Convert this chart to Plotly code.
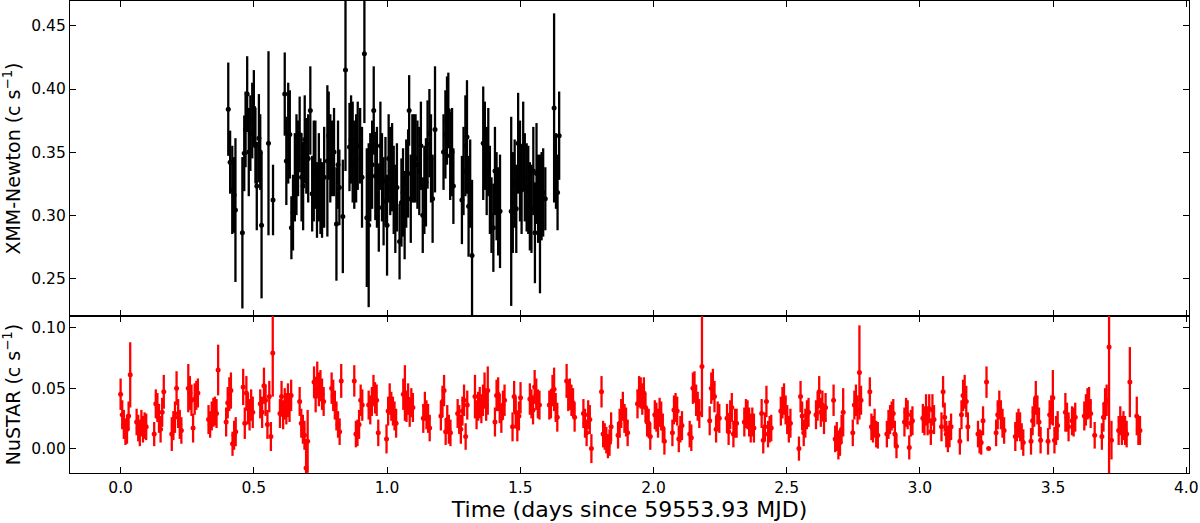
import plotly.graph_objects as go
from plotly.subplots import make_subplots

# ---------------- XMM-Newton light curve (days, c/s, 1-sigma error) ----------------
xmm_time = [
    0.404, 0.411, 0.419, 0.426, 0.431,
    0.457, 0.464, 0.469, 0.475, 0.481, 0.487, 0.494, 0.500, 0.506, 0.511, 0.519, 0.524, 0.529,
    0.555, 0.572,
    0.616, 0.622, 0.629, 0.635, 0.641, 0.647, 0.654, 0.660, 0.666, 0.672, 0.679, 0.685, 0.691,
    0.697, 0.704, 0.712, 0.719, 0.725, 0.731, 0.737, 0.744, 0.750, 0.756, 0.764, 0.776, 0.781,
    0.787, 0.794, 0.801, 0.810, 0.816,
    0.821, 0.834, 0.844, 0.859, 0.865, 0.871, 0.877, 0.884, 0.890, 0.899, 0.906, 0.915, 0.924,
    0.931, 0.937, 0.944, 0.950, 0.956, 0.962, 0.969, 0.975, 0.981, 0.987, 0.994, 1.000, 1.006,
    1.012, 1.019, 1.025, 1.031, 1.037, 1.047,
    1.054, 1.060, 1.066, 1.072, 1.079, 1.083, 1.089, 1.095, 1.101, 1.107, 1.114, 1.121, 1.127,
    1.134, 1.140, 1.146, 1.152, 1.159, 1.165, 1.171, 1.180,
    1.212, 1.219, 1.225, 1.230,
    1.237, 1.244, 1.249,
    1.281, 1.287, 1.294, 1.300, 1.306, 1.312, 1.319,
    1.361, 1.367, 1.374, 1.380, 1.386, 1.392, 1.399, 1.405, 1.411, 1.417, 1.424,
    1.466, 1.472, 1.479, 1.485, 1.492, 1.499, 1.505, 1.511, 1.517, 1.524, 1.530, 1.536, 1.542,
    1.549, 1.555, 1.561, 1.567, 1.574, 1.580, 1.586, 1.594,
    1.627, 1.634, 1.640, 1.646,
]
xmm_rate = [
    0.384, 0.342, 0.320, 0.316, 0.304,
    0.286, 0.349, 0.368, 0.396, 0.350, 0.365, 0.375, 0.385, 0.355, 0.323, 0.361, 0.350, 0.292,
    0.357, 0.312,
    0.396, 0.343, 0.365, 0.364, 0.290, 0.302, 0.330, 0.340, 0.345, 0.364, 0.330, 0.323, 0.360,
    0.347, 0.345, 0.383, 0.317, 0.335, 0.340, 0.312, 0.330, 0.315, 0.312, 0.330, 0.343, 0.363,
    0.345, 0.345, 0.350, 0.293, 0.340,
    0.322, 0.299, 0.415, 0.354, 0.360, 0.350, 0.340, 0.345, 0.355, 0.355, 0.330, 0.428, 0.298,
    0.292, 0.330, 0.340, 0.383, 0.331, 0.330, 0.306, 0.355, 0.330, 0.311, 0.327, 0.292, 0.345,
    0.335, 0.338, 0.320, 0.305, 0.322, 0.279,
    0.310, 0.318, 0.300, 0.325, 0.333, 0.383, 0.313, 0.345, 0.345, 0.345, 0.340, 0.335, 0.355,
    0.300, 0.320, 0.326, 0.356, 0.365, 0.345, 0.313, 0.368,
    0.350, 0.364, 0.375, 0.383,
    0.347, 0.350, 0.323,
    0.312, 0.335, 0.355, 0.362, 0.307, 0.325, 0.268,
    0.357, 0.355, 0.335, 0.350, 0.320, 0.300, 0.290, 0.335, 0.315, 0.303, 0.303,
    0.303, 0.310, 0.325, 0.305, 0.357, 0.335, 0.320, 0.355, 0.330, 0.322, 0.320, 0.307, 0.305,
    0.335, 0.286, 0.333, 0.313, 0.293, 0.315, 0.318, 0.313,
    0.385, 0.335, 0.318, 0.363,
]
xmm_err = [
    0.037, 0.025, 0.035, 0.030, 0.057,
    0.060, 0.030, 0.030, 0.030, 0.035, 0.030, 0.030, 0.030, 0.030, 0.035, 0.035, 0.030, 0.058,
    0.073, 0.028,
    0.033, 0.035, 0.040, 0.035, 0.025, 0.030, 0.035, 0.040, 0.030, 0.030, 0.035, 0.035, 0.035,
    0.030, 0.035, 0.035, 0.030, 0.040, 0.035, 0.030, 0.035, 0.030, 0.030, 0.040, 0.060, 0.035,
    0.035, 0.030, 0.035, 0.045, 0.035,
    0.030, 0.045, 0.080, 0.035, 0.035, 0.040, 0.035, 0.035, 0.035, 0.030, 0.040, 0.055, 0.055,
    0.065, 0.035, 0.035, 0.035, 0.035, 0.040, 0.035, 0.035, 0.035, 0.035, 0.035, 0.040, 0.035,
    0.035, 0.035, 0.035, 0.035, 0.035, 0.030,
    0.035, 0.035, 0.035, 0.035, 0.035, 0.028, 0.035, 0.035, 0.035, 0.035, 0.035, 0.035, 0.035,
    0.030, 0.035, 0.035, 0.035, 0.035, 0.035, 0.035, 0.050,
    0.030, 0.035, 0.035, 0.030,
    0.035, 0.035, 0.030,
    0.035, 0.035, 0.040, 0.045, 0.040, 0.035, 0.060,
    0.045, 0.035, 0.035, 0.035, 0.035, 0.030, 0.035, 0.035, 0.035, 0.035, 0.045,
    0.075, 0.040, 0.035, 0.035, 0.040, 0.040, 0.035, 0.035, 0.035, 0.035, 0.035, 0.035, 0.035,
    0.035, 0.040, 0.040, 0.035, 0.055, 0.035, 0.035, 0.025,
    0.075, 0.030, 0.030, 0.035,
]

# ---------------- NuSTAR light curve (days, c/s, 1-sigma error) ----------------
nustar_time = [
    0.000, 0.006, 0.012, 0.018, 0.024, 0.030, 0.036,
    0.060, 0.066, 0.072, 0.078, 0.084, 0.090, 0.096,
    0.126, 0.132, 0.138, 0.144, 0.150, 0.156, 0.162,
    0.192, 0.198, 0.204, 0.210, 0.216, 0.222, 0.228,
    0.254, 0.260, 0.266, 0.272, 0.278, 0.284, 0.290,
    0.330, 0.336, 0.342, 0.348, 0.354, 0.360, 0.366,
    0.396, 0.402, 0.408, 0.414, 0.420, 0.426, 0.432,
    0.460, 0.466, 0.472, 0.478, 0.484, 0.490, 0.496,
    0.524, 0.531, 0.538, 0.544, 0.551, 0.558, 0.564, 0.571,
    0.598, 0.604, 0.610, 0.616, 0.622, 0.628, 0.634, 0.640,
    0.672, 0.678, 0.684, 0.690, 0.696, 0.702,
    0.726, 0.732, 0.738, 0.744, 0.750, 0.756, 0.762,
    0.792, 0.798, 0.804, 0.810, 0.816, 0.822, 0.828,
    0.877, 0.883, 0.889, 0.895, 0.901, 0.907,
    0.931, 0.937, 0.943, 0.949, 0.955, 0.961, 0.967,
    0.998, 1.004, 1.010, 1.016, 1.022, 1.028, 1.034,
    1.061, 1.067, 1.073, 1.079, 1.085, 1.091, 1.097,
    1.136, 1.142, 1.148, 1.154, 1.160,
    1.202, 1.208, 1.214, 1.220, 1.226, 1.232, 1.238,
    1.265, 1.271, 1.277, 1.283, 1.289, 1.295, 1.301,
    1.330, 1.336, 1.342, 1.348, 1.354, 1.360, 1.366, 1.372, 1.378,
    1.405, 1.411, 1.417, 1.423, 1.429, 1.435, 1.441,
    1.471, 1.477, 1.483, 1.489, 1.495, 1.501,
    1.536, 1.542, 1.548, 1.554, 1.560, 1.566, 1.572,
    1.609, 1.615, 1.621, 1.627, 1.633, 1.639,
    1.674, 1.680, 1.686, 1.692, 1.698, 1.704,
    1.737, 1.743, 1.749, 1.755, 1.761, 1.767,
    1.805, 1.811, 1.817, 1.823, 1.829, 1.835, 1.841,
    1.867, 1.873, 1.879, 1.885, 1.891, 1.897, 1.903,
    1.940, 1.946, 1.952, 1.958, 1.964, 1.970, 1.976, 1.982, 1.988,
    2.005, 2.011, 2.017, 2.023, 2.029, 2.035, 2.041,
    2.071, 2.077, 2.083, 2.089, 2.095, 2.101, 2.107,
    2.136, 2.142, 2.148, 2.154, 2.160, 2.166, 2.172, 2.182,
    2.211, 2.217, 2.223, 2.229, 2.235, 2.241, 2.247,
    2.276, 2.282, 2.288, 2.294, 2.300, 2.306, 2.312,
    2.341, 2.347, 2.353, 2.359, 2.365, 2.371, 2.377,
    2.406, 2.412, 2.418, 2.424, 2.430, 2.436, 2.442,
    2.478, 2.484, 2.490, 2.496, 2.502, 2.508, 2.514,
    2.546, 2.552, 2.558, 2.564, 2.570, 2.576, 2.582,
    2.610, 2.616, 2.622, 2.628, 2.634, 2.640, 2.646,
    2.676, 2.682, 2.688, 2.694, 2.700, 2.706, 2.712,
    2.748, 2.754, 2.760, 2.766, 2.773, 2.779,
    2.812, 2.818, 2.824, 2.830, 2.836, 2.842,
    2.876, 2.882, 2.888, 2.894, 2.900, 2.906, 2.912,
    2.942, 2.948, 2.954, 2.960, 2.966, 2.972,
    3.011, 3.017, 3.023, 3.029, 3.035, 3.041, 3.047, 3.053,
    3.081, 3.087, 3.093, 3.099, 3.105, 3.111, 3.117,
    3.150, 3.156, 3.162, 3.168, 3.174, 3.180,
    3.218, 3.224, 3.230, 3.237, 3.250, 3.258,
    3.286, 3.292, 3.298, 3.304, 3.310, 3.316,
    3.358, 3.364, 3.370, 3.376, 3.382, 3.388,
    3.417, 3.423, 3.429, 3.435, 3.441, 3.447, 3.453,
    3.481, 3.487, 3.493, 3.499, 3.505, 3.511, 3.517,
    3.546, 3.552, 3.558, 3.571, 3.577, 3.583,
    3.617, 3.623, 3.629, 3.635, 3.641, 3.656,
    3.683, 3.689, 3.695, 3.701, 3.710, 3.719,
    3.746, 3.752, 3.758, 3.764, 3.770, 3.776, 3.788,
    3.814, 3.820, 3.826,
]
nustar_rate = [
    0.045, 0.028, 0.020, 0.014, 0.016, 0.027, 0.061,
    0.022, 0.017, 0.013, 0.021, 0.016, 0.019, 0.018,
    0.012, 0.037, 0.034, 0.025, 0.016, 0.030, 0.047,
    0.012, 0.019, 0.026, 0.050, 0.029, 0.020, 0.015,
    0.050, 0.046, 0.040, 0.017, 0.041, 0.044, 0.046,
    0.024, 0.020, 0.027, 0.030, 0.031, 0.029, 0.065,
    0.022, 0.038, 0.045, 0.048, 0.004, 0.011, 0.014,
    0.051, 0.021, 0.046, 0.033, 0.028, 0.036, 0.030,
    0.037, 0.030, 0.052, 0.040, 0.020, 0.043, 0.010, 0.079,
    0.029, 0.043, 0.028, 0.037, 0.033, 0.040, 0.034, 0.044,
    0.039, 0.021, 0.016, 0.011, -0.016, 0.006,
    0.055, 0.043, 0.058, 0.049, 0.052, 0.045, 0.039,
    0.050, 0.044, 0.036, 0.027, 0.020, 0.014, 0.056,
    0.056, 0.012, 0.013, 0.020, 0.040, 0.036,
    0.036, 0.032, 0.039, 0.048, 0.042, 0.040, 0.013,
    0.008, 0.031, 0.041, 0.035, 0.031, 0.027, 0.021,
    0.045, 0.046, 0.035, 0.041, 0.030, 0.038, 0.034,
    0.025, 0.035, 0.028, 0.025, 0.017,
    0.027, 0.039, 0.048, 0.014, 0.024, 0.016, 0.013,
    0.029, 0.024, 0.016, 0.031, 0.040, 0.010, 0.036,
    0.043, 0.028, 0.035, 0.038, 0.033, 0.040, 0.048, 0.036, 0.048,
    0.022, 0.044, 0.045, 0.033, 0.025, 0.036, 0.040,
    0.018, 0.043, 0.030, 0.018, 0.027, 0.042,
    0.041, 0.037, 0.032, 0.051, 0.045, 0.037, 0.036,
    0.036, 0.037, 0.048, 0.049, 0.034, 0.026,
    0.056, 0.044, 0.045, 0.040, 0.038, 0.026,
    0.029, 0.021, 0.013, 0.028, 0.024, 0.000,
    0.047, 0.012, 0.010, 0.007, 0.002, 0.005, 0.018,
    0.011, 0.021, 0.029, 0.035, 0.025, 0.022, 0.013,
    0.037, 0.047, 0.046, 0.041, 0.046, 0.034, 0.022, 0.021, 0.010,
    0.028, 0.026, 0.021, 0.030, 0.027, 0.017, 0.006,
    0.013, 0.032, 0.034, 0.031, 0.008, 0.016, 0.019,
    0.012, 0.009, 0.050, 0.051, 0.040, 0.035, 0.029, 0.068,
    0.023, 0.050, 0.053, 0.043, 0.016, 0.027, 0.025,
    0.025, 0.014, 0.028, 0.034, 0.012, 0.021, 0.021,
    0.022, 0.029, 0.028, 0.022, 0.017, 0.022, 0.017,
    0.029, 0.007, 0.018, 0.039, 0.012, 0.016, 0.017,
    0.031, 0.038, 0.041, 0.032, 0.024, 0.016, 0.021,
    0.000, 0.043, 0.027, 0.013, 0.021, 0.028, 0.030,
    0.028, 0.035, 0.047, 0.030, 0.036, 0.024, 0.034,
    0.040, 0.008, 0.010, 0.003, 0.005, 0.016, 0.030,
    0.013, 0.036, 0.040, 0.032, 0.063, 0.040,
    0.047, 0.018, 0.016, 0.021, 0.012, 0.011,
    0.012, 0.020, 0.024, 0.027, 0.029, 0.012, 0.002,
    0.022, 0.030, 0.028, 0.001, 0.021, 0.023,
    0.025, 0.023, 0.032, 0.023, 0.033, 0.014, 0.032, 0.024,
    0.018, 0.047, 0.026, 0.012, 0.008, 0.012, 0.018,
    0.006, 0.028, 0.044, 0.047, 0.039, 0.018,
    0.012, 0.006, 0.005, 0.023, 0.055, 0.000,
    0.013, 0.028, 0.036, 0.028, 0.021, 0.015,
    0.010, 0.018, 0.021, 0.018, 0.010, 0.005,
    0.006, 0.023, 0.030, 0.042, 0.032, 0.022, 0.007,
    0.006, 0.028, 0.032, 0.042, 0.007, 0.015, 0.019,
    0.030, 0.026, 0.018, 0.023, 0.022, 0.026,
    0.027, 0.032, 0.037, 0.038, 0.029, 0.011,
    0.010, 0.026, 0.037, 0.040, 0.084, 0.007,
    0.015, 0.023, 0.015, 0.019, 0.015, 0.012, 0.055,
    0.027, 0.015, 0.015,
]
nustar_err = [
    0.013, 0.012, 0.012, 0.011, 0.012, 0.012, 0.027,
    0.011, 0.011, 0.011, 0.011, 0.011, 0.011, 0.011,
    0.010, 0.012, 0.012, 0.012, 0.011, 0.012, 0.014,
    0.014, 0.012, 0.013, 0.014, 0.012, 0.012, 0.011,
    0.020, 0.014, 0.013, 0.012, 0.013, 0.012, 0.012,
    0.012, 0.011, 0.012, 0.012, 0.012, 0.012, 0.021,
    0.012, 0.013, 0.014, 0.015, 0.010, 0.012, 0.012,
    0.015, 0.013, 0.014, 0.013, 0.013, 0.013, 0.013,
    0.012, 0.013, 0.015, 0.013, 0.012, 0.013, 0.012, 0.036,
    0.012, 0.013, 0.012, 0.013, 0.013, 0.014, 0.012, 0.013,
    0.012, 0.012, 0.012, 0.012, 0.024, 0.026,
    0.013, 0.013, 0.014, 0.014, 0.013, 0.013, 0.012,
    0.013, 0.013, 0.012, 0.012, 0.011, 0.011, 0.014,
    0.013, 0.011, 0.011, 0.012, 0.013, 0.013,
    0.012, 0.012, 0.012, 0.013, 0.013, 0.013, 0.011,
    0.012, 0.012, 0.013, 0.012, 0.012, 0.012, 0.012,
    0.013, 0.023, 0.013, 0.013, 0.012, 0.012, 0.012,
    0.012, 0.012, 0.012, 0.012, 0.011,
    0.012, 0.013, 0.013, 0.011, 0.012, 0.012, 0.011,
    0.012, 0.012, 0.012, 0.012, 0.013, 0.011, 0.012,
    0.018, 0.012, 0.012, 0.013, 0.012, 0.013, 0.015, 0.013, 0.020,
    0.012, 0.013, 0.014, 0.012, 0.012, 0.012, 0.013,
    0.012, 0.013, 0.013, 0.012, 0.012, 0.013,
    0.013, 0.012, 0.012, 0.014, 0.013, 0.012, 0.012,
    0.012, 0.012, 0.013, 0.018, 0.012, 0.012,
    0.014, 0.013, 0.013, 0.013, 0.012, 0.012,
    0.012, 0.012, 0.011, 0.012, 0.012, 0.012,
    0.013, 0.011, 0.011, 0.011, 0.010, 0.011, 0.012,
    0.011, 0.012, 0.012, 0.012, 0.012, 0.012, 0.011,
    0.012, 0.013, 0.013, 0.013, 0.013, 0.012, 0.012, 0.012, 0.011,
    0.012, 0.012, 0.012, 0.012, 0.012, 0.012, 0.011,
    0.011, 0.012, 0.012, 0.012, 0.011, 0.011, 0.012,
    0.011, 0.011, 0.013, 0.013, 0.013, 0.012, 0.012, 0.042,
    0.012, 0.013, 0.013, 0.013, 0.011, 0.012, 0.012,
    0.012, 0.011, 0.012, 0.012, 0.011, 0.012, 0.012,
    0.012, 0.012, 0.012, 0.012, 0.012, 0.012, 0.012,
    0.012, 0.011, 0.012, 0.013, 0.011, 0.011, 0.011,
    0.012, 0.013, 0.013, 0.012, 0.012, 0.011, 0.012,
    0.010, 0.013, 0.012, 0.011, 0.012, 0.012, 0.012,
    0.012, 0.012, 0.013, 0.012, 0.012, 0.012, 0.012,
    0.013, 0.011, 0.012, 0.012, 0.011, 0.012, 0.020,
    0.011, 0.012, 0.013, 0.012, 0.039, 0.012,
    0.012, 0.011, 0.011, 0.012, 0.011, 0.011,
    0.011, 0.012, 0.012, 0.012, 0.012, 0.011, 0.010,
    0.012, 0.012, 0.012, 0.010, 0.011, 0.012,
    0.012, 0.012, 0.013, 0.012, 0.012, 0.011, 0.013, 0.012,
    0.012, 0.013, 0.012, 0.011, 0.011, 0.011, 0.011,
    0.011, 0.012, 0.013, 0.014, 0.013, 0.012,
    0.011, 0.010, 0.010, 0.012, 0.013, 0.000,
    0.011, 0.012, 0.012, 0.012, 0.012, 0.011,
    0.012, 0.012, 0.012, 0.012, 0.011, 0.011,
    0.011, 0.012, 0.012, 0.014, 0.012, 0.012, 0.011,
    0.011, 0.012, 0.012, 0.023, 0.011, 0.012, 0.012,
    0.016, 0.012, 0.012, 0.012, 0.012, 0.012,
    0.012, 0.013, 0.013, 0.013, 0.012, 0.011,
    0.011, 0.012, 0.013, 0.013, 0.105, 0.016,
    0.012, 0.012, 0.012, 0.012, 0.012, 0.011, 0.029,
    0.016, 0.012, 0.012,
]

assert len(xmm_time) == len(xmm_rate) == len(xmm_err), (len(xmm_time), len(xmm_rate), len(xmm_err))
assert len(nustar_time) == len(nustar_rate) == len(nustar_err), (len(nustar_time), len(nustar_rate), len(nustar_err))

x_ticks = [0.0, 0.5, 1.0, 1.5, 2.0, 2.5, 3.0, 3.5, 4.0]
xmm_ticks = [0.25, 0.30, 0.35, 0.40, 0.45]
nustar_ticks = [0.00, 0.05, 0.10]

FONT = "DejaVu Sans, Arial, sans-serif"

fig = make_subplots(rows=2, cols=1, shared_xaxes=True, vertical_spacing=0)

fig.add_trace(go.Scatter(
    x=xmm_time, y=xmm_rate, mode="markers",
    marker=dict(color="black", size=5),
    error_y=dict(type="data", array=xmm_err, visible=True, color="black", thickness=2.3, width=0),
    showlegend=False,
), row=1, col=1)

fig.add_trace(go.Scatter(
    x=nustar_time, y=nustar_rate, mode="markers",
    marker=dict(color="#ff0000", size=5),
    error_y=dict(type="data", array=nustar_err, visible=True, color="#ff0000", thickness=2.3, width=0),
    showlegend=False,
), row=2, col=1)

axis_style = dict(
    showline=True, linecolor="black", linewidth=1.2, mirror="ticks",
    ticks="inside", ticklen=6, tickwidth=1.2, tickcolor="black",
    showgrid=False, zeroline=False, automargin=False,
    tickfont=dict(family=FONT, size=15.5, color="black"),
)

fig.update_xaxes(**axis_style)
fig.update_yaxes(**axis_style)

fig.update_xaxes(range=[-0.19, 4.01], tickvals=x_ticks, showticklabels=False, row=1, col=1)
fig.update_xaxes(
    range=[-0.19, 4.01], tickvals=x_ticks, ticktext=[f"{v:.1f}" for v in x_ticks],
    title=dict(text="Time (days since 59553.93 MJD)", font=dict(family=FONT, size=22, color="black"), standoff=2),
    row=2, col=1,
)
fig.update_yaxes(
    range=[0.22, 0.4698], tickvals=xmm_ticks, ticktext=[f"{v:.2f}" for v in xmm_ticks],
    title=dict(text="XMM-Newton (c s<sup>−1</sup>)", font=dict(family=FONT, size=19, color="black"), standoff=5),
    domain=[0.3326, 1.0], row=1, col=1,
)
fig.update_yaxes(
    range=[-0.0202, 0.1097], tickvals=nustar_ticks, ticktext=[f"{v:.2f}" for v in nustar_ticks],
    title=dict(text="NuSTAR (c s<sup>−1</sup>)", font=dict(family=FONT, size=19, color="black"), standoff=5),
    domain=[0.0, 0.3326], row=2, col=1,
)

fig.update_layout(
    width=1200, height=523,
    margin=dict(l=70, r=11, t=1, b=50),
    plot_bgcolor="white", paper_bgcolor="white",
    font=dict(family=FONT, color="black"),
)

fig.write_html(
    "out.html",
    config={"displayModeBar": False},
    post_script="document.body.style.margin='0';document.body.style.padding='0';document.body.style.overflow='hidden';",
)
